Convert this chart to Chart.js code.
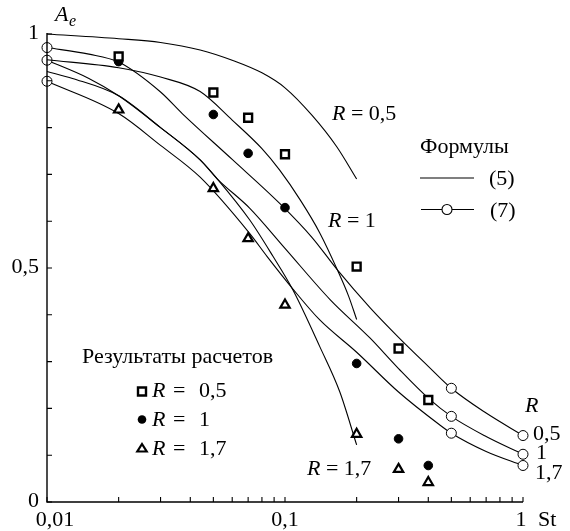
<!DOCTYPE html>
<html>
<head>
<meta charset="utf-8">
<script src="https://cdn.jsdelivr.net/npm/chart.js@4.4.1/dist/chart.umd.min.js"></script>
<style>
  html, body { margin: 0; background: #fff; }
</style>
</head>
<body>
<canvas id="chart" width="570" height="531"></canvas>
<script>
// formula (5) curves
const stF5R05 = [0.01, 0.02, 0.03, 0.044, 0.06, 0.08, 0.1, 0.13, 0.165, 0.2];
const aF5R05  = [1.0, 0.99, 0.982, 0.966, 0.944, 0.917, 0.885, 0.826, 0.759, 0.69];
const stF5R1  = [0.01, 0.02, 0.03, 0.044, 0.06, 0.08, 0.095, 0.116, 0.14, 0.166, 0.185, 0.2];
const aF5R1   = [0.945, 0.928, 0.908, 0.877, 0.816, 0.755, 0.709, 0.645, 0.575, 0.496, 0.44, 0.39];
const stF5R17 = [0.01, 0.0128, 0.02, 0.03, 0.044, 0.052, 0.071, 0.089, 0.108, 0.14, 0.17, 0.2];
const aF5R17  = [0.92, 0.905, 0.868, 0.80, 0.731, 0.69, 0.603, 0.525, 0.453, 0.332, 0.235, 0.122];

// formula (7) curves
const stF7R05 = [0.01, 0.015, 0.02, 0.03, 0.037, 0.06, 0.095, 0.13, 0.166, 0.228, 0.3, 0.4, 0.5, 0.7, 1];
const aF7R05  = [0.971, 0.957, 0.94, 0.876, 0.83, 0.732, 0.638, 0.565, 0.496, 0.415, 0.352, 0.29, 0.243, 0.19, 0.142];
const stF7R1  = [0.01, 0.015, 0.02, 0.03, 0.044, 0.052, 0.071, 0.1, 0.155, 0.228, 0.3, 0.4, 0.5, 0.7, 1];
const aF7R1   = [0.944, 0.905, 0.868, 0.80, 0.731, 0.69, 0.628, 0.542, 0.432, 0.35, 0.285, 0.222, 0.183, 0.14, 0.102];
const stF7R17 = [0.01, 0.02, 0.03, 0.044, 0.071, 0.084, 0.108, 0.14, 0.2, 0.3, 0.446, 0.5, 0.7, 1];
const aF7R17  = [0.899, 0.83, 0.762, 0.694, 0.574, 0.525, 0.455, 0.389, 0.32, 0.235, 0.165, 0.147, 0.108, 0.078];
const circleSt = [0.01, 0.5, 1];

// calculation results
const stResults = [0.02, 0.05, 0.07, 0.1, 0.2, 0.3, 0.4];
const aResR05 = [0.952, 0.875, 0.821, 0.743, 0.503, 0.328, 0.218];
const aResR1  = [0.941, 0.828, 0.745, 0.629, 0.296, 0.135, 0.078];
const aResR17 = [0.838, 0.670, 0.563, 0.421, 0.145, 0.070, 0.042];

// ticks
const xMajor = [0.01, 0.1, 1];
const xMajorLabels = ['0,01', '0,1', '1'];
const xLabelShift = [8, 0, -2];
const xMinor = [0.02, 0.03, 0.04, 0.05, 0.06, 0.07, 0.08, 0.09, 0.2, 0.3, 0.4, 0.5, 0.6, 0.7, 0.8, 0.9];
const yMajor = [0, 0.5, 1];
const yMajorLabels = ['0', '0,5', '1'];
const yMinor = [0.1, 0.2, 0.3, 0.4, 0.6, 0.7, 0.8, 0.9];

const FONT = '"Liberation Serif", "Times New Roman", serif';
const FS = 22;
const pts = (xs, ys) => xs.map((x, i) => ({ x: x, y: ys[i] }));

function curve(xs, ys, withCircles) {
  return {
    data: pts(xs, ys),
    borderColor: '#000',
    borderWidth: 1.1,
    cubicInterpolationMode: 'monotone',
    fill: false,
    clip: false,
    order: 2,
    pointStyle: 'circle',
    pointRadius: ctx => (withCircles && ctx.raw && circleSt.includes(ctx.raw.x)) ? 5 : 0,
    pointBackgroundColor: '#fff',
    pointBorderColor: '#000',
    pointBorderWidth: 1
  };
}

function markers(ys, style, r, filled, bw) {
  return {
    data: pts(stResults, ys),
    showLine: false,
    clip: false,
    order: 1,
    pointStyle: style,
    pointRadius: r,
    pointBackgroundColor: filled ? '#000' : '#fff',
    pointBorderColor: '#000',
    pointBorderWidth: bw
  };
}

function text(ctx, parts, x, y, size, align) {
  let w = 0;
  parts.forEach(p => {
    ctx.font = (p[1] ? 'italic ' : '') + size + 'px ' + FONT;
    w += ctx.measureText(p[0]).width;
  });
  let cx = align === 'right' ? x - w : (align === 'center' ? x - w / 2 : x);
  parts.forEach(p => {
    ctx.font = (p[1] ? 'italic ' : '') + size + 'px ' + FONT;
    ctx.fillText(p[0], cx, y);
    cx += ctx.measureText(p[0]).width;
  });
}

// "R = value" with wider spacing, as in the results legend
function rLabel(ctx, value, x, y) {
  text(ctx, [['R', true]], x, y, FS, 'left');
  text(ctx, [['=', false]], x + 21, y, FS, 'left');
  text(ctx, [[value, false]], x + 47, y, FS, 'left');
}

const decor = {
  id: 'decor',
  afterDraw(chart) {
    const ctx = chart.ctx;
    const xs = chart.scales.x, ys = chart.scales.y;
    const x0 = xs.getPixelForValue(0.01), x1 = xs.getPixelForValue(1);
    const y0 = ys.getPixelForValue(0), y1 = ys.getPixelForValue(1);
    ctx.save();
    ctx.strokeStyle = '#000';
    ctx.fillStyle = '#000';
    ctx.lineWidth = 1.4;
    ctx.beginPath();
    ctx.moveTo(x0, y1 - 1);
    ctx.lineTo(x0, y0);
    ctx.lineTo(x1, y0);
    ctx.stroke();
    ctx.lineWidth = 1.1;
    ctx.beginPath();
    yMinor.concat(yMajor).forEach(v => {
      const y = ys.getPixelForValue(v);
      ctx.moveTo(x0, y); ctx.lineTo(x0 + 5, y);
    });
    xMinor.concat(xMajor).forEach(v => {
      const x = xs.getPixelForValue(v);
      ctx.moveTo(x, y0); ctx.lineTo(x, y0 - 5);
    });
    ctx.stroke();

    ctx.textBaseline = 'alphabetic';
    xMajor.forEach((v, i) => text(ctx, [[xMajorLabels[i], false]], xs.getPixelForValue(v) + xLabelShift[i], 526, FS, 'center'));
    yMajor.forEach((v, i) => text(ctx, [[yMajorLabels[i], false]], 39, ys.getPixelForValue(v) + 5, FS, 'right'));
    text(ctx, [['St', false]], 538, 526, FS, 'left');
    text(ctx, [['A', true]], 55, 21, FS, 'left');
    text(ctx, [['e', true]], 69, 26, 16, 'left');

    // curve labels
    text(ctx, [['R', true], [' = 0,5', false]], 332, 120, FS, 'left');
    text(ctx, [['R', true], [' = 1', false]], 328, 227, FS, 'left');
    text(ctx, [['R', true], [' = 1,7', false]], 307, 475, FS, 'left');
    text(ctx, [['R', true]], 525, 412, FS, 'left');
    text(ctx, [['0,5', false]], 533, 440, FS, 'left');
    text(ctx, [['1', false]], 536, 459, FS, 'left');
    text(ctx, [['1,7', false]], 535, 479, FS, 'left');

    // formulas legend
    text(ctx, [['Формулы', false]], 420, 153, FS, 'left');
    ctx.beginPath();
    ctx.moveTo(420, 178); ctx.lineTo(474, 178);
    ctx.moveTo(421, 209.5); ctx.lineTo(474, 209.5);
    ctx.stroke();
    ctx.beginPath();
    ctx.fillStyle = '#fff';
    ctx.arc(447, 209.5, 5, 0, Math.PI * 2);
    ctx.fill(); ctx.stroke();
    ctx.fillStyle = '#000';
    text(ctx, [['(5)', false]], 489, 185, FS, 'left');
    text(ctx, [['(7)', false]], 490, 217, FS, 'left');

    // results legend
    text(ctx, [['Результаты расчетов', false]], 82, 363, FS, 'left');
    ctx.lineWidth = 2.4;
    ctx.fillStyle = '#fff';
    ctx.beginPath();
    ctx.rect(138, 387.5, 8, 8);
    ctx.fill(); ctx.stroke();
    ctx.fillStyle = '#000';
    ctx.beginPath();
    ctx.arc(142, 419.5, 4.3, 0, Math.PI * 2);
    ctx.fill();
    ctx.lineWidth = 2.2;
    ctx.fillStyle = '#fff';
    ctx.beginPath();
    ctx.moveTo(142, 444); ctx.lineTo(146.7, 451.5); ctx.lineTo(137.3, 451.5); ctx.closePath();
    ctx.fill(); ctx.stroke();
    ctx.fillStyle = '#000';
    rLabel(ctx, '0,5', 152, 397);
    rLabel(ctx, '1', 152, 426);
    rLabel(ctx, '1,7', 152, 455);
    ctx.restore();
  }
};

new Chart(document.getElementById('chart'), {
  type: 'line',
  data: {
    datasets: [
      curve(stF5R05, aF5R05, false),
      curve(stF5R1, aF5R1, false),
      curve(stF5R17, aF5R17, false),
      curve(stF7R05, aF7R05, true),
      curve(stF7R1, aF7R1, true),
      curve(stF7R17, aF7R17, true),
      markers(aResR05, 'rect', 5.6, false, 2.4),
      markers(aResR1, 'circle', 4.3, true, 1),
      markers(aResR17, 'triangle', 5.4, false, 2.2)
    ]
  },
  options: {
    responsive: false,
    animation: false,
    events: [],
    layout: { padding: { left: 47, right: 47, top: 34, bottom: 29 } },
    scales: {
      x: { type: 'logarithmic', min: 0.01, max: 1, display: false },
      y: { type: 'linear', min: 0, max: 1, display: false }
    },
    plugins: { legend: { display: false }, tooltip: { enabled: false } }
  },
  plugins: [decor]
});
</script>
</body>
</html>
